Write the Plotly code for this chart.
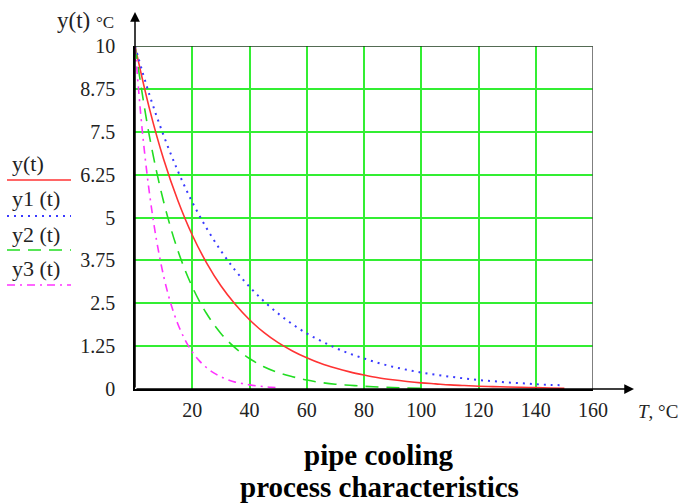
import plotly.graph_objects as go

# ---- data ----
t_main = [0, 5, 10, 15, 20, 25, 30, 35, 40, 45, 50, 55, 60, 65, 70, 75, 80, 85, 90, 95,
          100, 105, 110, 115, 120, 125, 130, 135, 140, 145, 150]
y_vals = [10, 8.19, 6.70, 5.49, 4.49, 3.68, 3.01, 2.47, 2.02, 1.65, 1.35, 1.11, 0.91, 0.74,
          0.61, 0.50, 0.41, 0.33, 0.27, 0.22, 0.18, 0.15, 0.12, 0.10, 0.08, 0.07, 0.06,
          0.05, 0.04, 0.03, 0.02]
y1_vals = [10, 8.59, 7.39, 6.35, 5.45, 4.69, 4.03, 3.46, 2.98, 2.56, 2.20, 1.89, 1.62, 1.40,
           1.20, 1.03, 0.89, 0.76, 0.65, 0.56, 0.48, 0.42, 0.36, 0.31, 0.26, 0.23, 0.19,
           0.17, 0.14, 0.12, 0.11]
t_y2 = [0, 5, 10, 15, 20, 25, 30, 35, 40, 45, 50, 55, 60, 65, 70, 75, 80, 85, 90, 95, 100]
y2_vals = [10, 7.39, 5.46, 4.03, 2.98, 2.20, 1.62, 1.20, 0.89, 0.65, 0.48, 0.36, 0.26, 0.19,
           0.14, 0.11, 0.08, 0.06, 0.04, 0.03, 0.02]
t_y3 = [0, 2.5, 5, 7.5, 10, 12.5, 15, 17.5, 20, 22.5, 25, 27.5, 30, 32.5, 35, 37.5, 40,
        42.5, 45, 47.5, 50]
y3_vals = [10, 7.57, 5.74, 4.35, 3.29, 2.49, 1.89, 1.43, 1.08, 0.82, 0.62, 0.47, 0.36, 0.27,
           0.20, 0.16, 0.12, 0.09, 0.07, 0.05, 0.04]

x_ticks = [20, 40, 60, 80, 100, 120, 140, 160]
y_ticks = [0, 1.25, 2.5, 3.75, 5, 6.25, 7.5, 8.75, 10]
y_ticktext = ["0", "1.25", "2.5", "3.75", "5", "6.25", "7.5", "8.75", "10"]
legend_names = ["y(t)", "y1 (t)", "y2 (t)", "y3 (t)"]

FONT = "Liberation Serif"
GRID = "#33ee33"
RED, BLUE, GREEN, MAG = "#ff3333", "#3a3aff", "#22dd22", "#ff33ff"

fig = go.Figure()
fig.add_trace(go.Scatter(x=t_main, y=y_vals, mode="lines", line=dict(color=RED, width=1.6, shape="spline")))
fig.add_trace(go.Scatter(x=t_main, y=y1_vals, mode="lines", line=dict(color=BLUE, width=2, dash="2px,5px", shape="spline")))
fig.add_trace(go.Scatter(x=t_y2, y=y2_vals, mode="lines", line=dict(color=GREEN, width=1.6, dash="13px,8px", shape="spline")))
fig.add_trace(go.Scatter(x=t_y3, y=y3_vals, mode="lines", line=dict(color=MAG, width=1.6, dash="8px,5px,2px,5px", shape="spline")))

W, H = 680, 504
L, R, T, B = 135, 87, 46, 115
pw, ph = W - L - R, H - T - B

def px(xp):
    return (xp - L) / pw

def py(yp):
    return (H - B - yp) / ph

fig.update_layout(
    width=W, height=H,
    margin=dict(l=L, r=R, t=T, b=B, autoexpand=False),
    paper_bgcolor="white", plot_bgcolor="white",
    showlegend=False,
    font=dict(family=FONT, color="#222"),
    xaxis=dict(range=[0, 160], tickvals=x_ticks, ticktext=[str(v) for v in x_ticks],
               showgrid=True, gridcolor=GRID, gridwidth=2, zeroline=False, automargin=False,
               showline=True, linecolor="black", linewidth=1.5,
               ticks="outside", ticklen=2, tickcolor="rgba(0,0,0,0)",
               tickfont=dict(family=FONT, size=20, color="#222")),
    yaxis=dict(range=[0, 10], tickvals=y_ticks, ticktext=y_ticktext,
               showgrid=True, gridcolor=GRID, gridwidth=2, zeroline=False, automargin=False,
               showline=True, linecolor="black", linewidth=1.5,
               ticks="outside", ticklen=14, tickcolor="rgba(0,0,0,0)",
               tickfont=dict(family=FONT, size=20, color="#222")),
)

# top line and right border
fig.add_shape(type="line", xref="x", yref="y", x0=0, x1=160, y0=10, y1=10,
              line=dict(color="#1a3a1a", width=1.5))
fig.add_shape(type="line", xref="x", yref="y", x0=160, x1=160, y0=0, y1=10,
              line=dict(color="#555555", width=1.5))

# axis arrows
fig.add_annotation(xref="paper", yref="paper", x=0, y=py(12), ax=0, ay=(H - B) - 12,
                   axref="pixel", ayref="pixel", text="", showarrow=True,
                   arrowhead=2, arrowsize=1.3, arrowwidth=1.5, arrowcolor="black")
fig.add_annotation(xref="paper", yref="paper", x=px(634), y=0, ax=-(634 - L), ay=0,
                   text="", showarrow=True,
                   arrowhead=2, arrowsize=1.3, arrowwidth=1.5, arrowcolor="black")

# axis titles
fig.add_annotation(xref="paper", yref="paper", x=px(116), y=py(20), xanchor="right", yanchor="middle",
                   text="y(t) <span style='font-size:17px'>°C</span>", showarrow=False,
                   font=dict(family=FONT, size=23, color="#222"))
fig.add_annotation(xref="paper", yref="paper", x=px(636), y=py(411), xanchor="left", yanchor="middle",
                   text="<i>T</i>, °C", showarrow=False,
                   font=dict(family=FONT, size=19, color="#222"))

# legend (left side)
leg_colors = [RED, BLUE, GREEN, MAG]
leg_dash = ["solid", "2px,5px", "13px,8px", "8px,5px,2px,5px"]
leg_text_y = [163, 199, 234, 268]
leg_line_y = [180, 216, 250, 285]
for name, c, d, ty, ly in zip(legend_names, leg_colors, leg_dash, leg_text_y, leg_line_y):
    fig.add_annotation(xref="paper", yref="paper", x=px(10), y=py(ty), xanchor="left", yanchor="middle",
                       text=name, showarrow=False, font=dict(family=FONT, size=22, color="#222"))
    fig.add_shape(type="line", xref="paper", yref="paper", x0=px(7), x1=px(71), y0=py(ly), y1=py(ly),
                  line=dict(color=c, width=2 if c == BLUE else 1.6, dash=d))

# title below
fig.add_annotation(xref="paper", yref="paper", x=px(379), y=py(455), xanchor="center", yanchor="middle",
                   text="<b>pipe cooling</b>", showarrow=False,
                   font=dict(family=FONT, size=29, color="black"))
fig.add_annotation(xref="paper", yref="paper", x=px(379), y=py(487), xanchor="center", yanchor="middle",
                   text="<b>process characteristics</b>", showarrow=False,
                   font=dict(family=FONT, size=29, color="black"))

fig.write_html("out.html", config={"displayModeBar": False},
               post_script="document.body.style.margin='0px';document.body.style.overflow='hidden';")
